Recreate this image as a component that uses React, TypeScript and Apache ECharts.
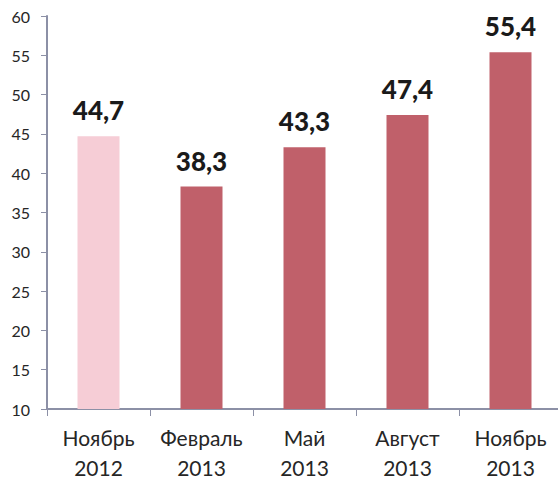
import React, { useEffect, useRef } from "react";
import * as echarts from "echarts";

const categories = ["Ноябрь\n2012", "Февраль\n2013", "Май\n2013", "Август\n2013", "Ноябрь\n2013"];
const values = [44.7, 38.3, 43.3, 47.4, 55.4];
const barColors = ["#F6CDD6", "#C0606A", "#C0606A", "#C0606A", "#C0606A"];

export default function App() {
  const ref = useRef<HTMLDivElement>(null);
  useEffect(() => {
    if (!ref.current) return;
    const chart = echarts.init(ref.current, null, { renderer: "svg" });
    chart.setOption({
      animation: false,
      backgroundColor: "#ffffff",
      grid: { left: 47, right: 2, top: 16, bottom: 75, containLabel: false },
      xAxis: {
        type: "category",
        data: categories,
        axisLine: { lineStyle: { color: "#8C90A6", width: 2 } },
        axisTick: { show: true, length: 7, lineStyle: { color: "#8C90A6", width: 1 } },
        axisLabel: {
          interval: 0,
          color: "#262626",
          fontFamily: "Lato",
          fontSize: 21,
          lineHeight: 30,
          margin: 13,
        },
      },
      yAxis: {
        type: "value",
        min: 10,
        max: 60,
        interval: 5,
        splitLine: { show: false },
        axisLine: { show: true, lineStyle: { color: "#8C90A6", width: 2 } },
        axisTick: { show: true, length: 6, lineStyle: { color: "#8C90A6", width: 1 } },
        axisLabel: {
          color: "#262626",
          fontFamily: "Lato",
          fontSize: 16,
          margin: 17,
        },
      },
      series: [
        {
          type: "bar",
          barWidth: 42,
          data: values.map((v, i) => ({ value: v, itemStyle: { color: barColors[i] } })),
          label: {
            show: true,
            position: "top",
            distance: 13,
            color: "#1a1a1a",
            fontFamily: "Lato",
            fontWeight: 900,
            fontSize: 26,
            formatter: (p: any) => String(p.value).replace(".", ","),
          },
        },
      ],
    });
    return () => chart.dispose();
  }, []);
  return (
    <div
      ref={ref}
      style={{ position: "fixed", left: 0, top: 0, width: 564, height: 484 }}
    />
  );
}
